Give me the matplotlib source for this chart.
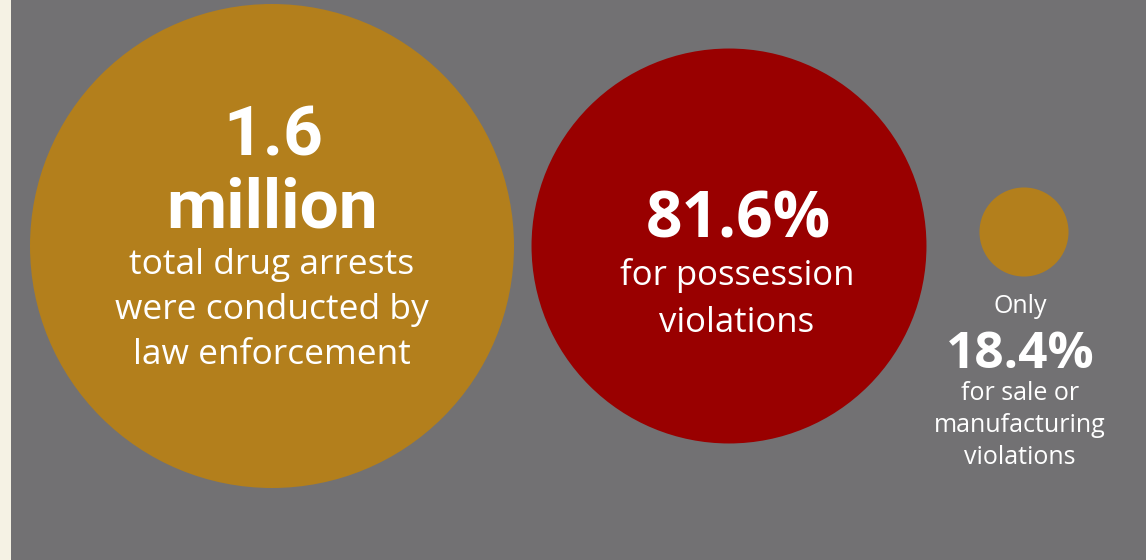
import matplotlib.pyplot as plt
from matplotlib.patches import Circle, Rectangle

# share of all drug arrests
labels = ["total", "possession", "sale or manufacturing"]
shares = [1.0, 0.816, 0.184]
headline = ["1.6\nmillion", "81.6%", "18.4%"]

W, H = 1146, 560
cream = "#F5F2E4"
grey = "#727173"
gold = "#B37F1C"
red = "#990000"

plt.rcParams['font.family'] = ['Open Sans', 'DejaVu Sans']
narrow = ['Roboto', 'Open Sans', 'DejaVu Sans']

fig = plt.figure(figsize=(W / 100, H / 100), dpi=100, facecolor=cream)
ax = fig.add_axes([0, 0, 1, 1])
ax.set_xlim(0, W)
ax.set_ylim(H, 0)
ax.set_aspect('equal')
ax.axis('off')

ax.add_patch(Rectangle((11, 0), W - 11, H, color=grey, lw=0))

rmax = 242
centers = [(272, 246), (729, 246), (1024, 232)]
colors = [gold, red, gold]
for (cx, cy), s, c in zip(centers, shares, colors):
    ax.add_patch(Circle((cx, cy), rmax * s, color=c, lw=0))


def line(x, y, s, size, bold=False, family=None):
    ax.text(x, y, s, ha='center', va='baseline', color='white', fontsize=size,
            fontweight='bold' if bold else 'normal', family=family)


# big circle
top, bottom = headline[0].split("\n")
line(273, 155, top, 50, True, narrow)
line(272, 227, bottom, 50, True, narrow)
for y, t in zip([274, 319, 364], ["total drug arrests", "were conducted by", "law enforcement"]):
    line(272, y, t, 25.5)

# possession
line(738, 238, headline[1], 46, True)
for y, t in zip([285, 332], ["for possession", "violations"]):
    line(737, y, t, 25)

# sale / manufacturing
line(1020, 313, "Only", 18)
line(1020, 368, headline[2], 37, True)
for y, t in zip([400, 432, 464], ["for sale or", "manufacturing", "violations"]):
    line(1020, y, t, 18)

fig.savefig("out.png", dpi=100, facecolor=cream)
